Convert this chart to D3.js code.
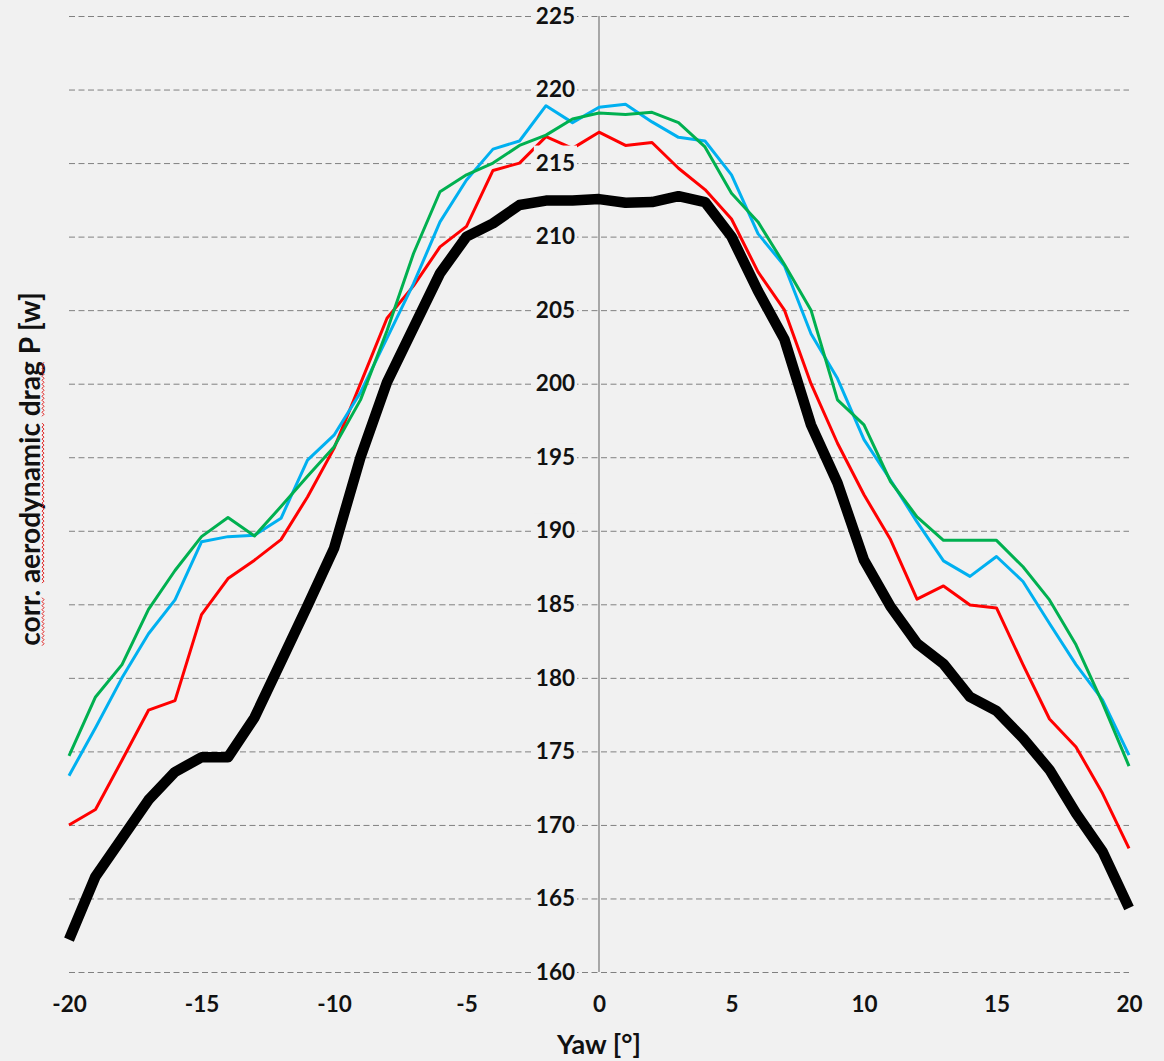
<!DOCTYPE html>
<html>
<head>
<meta charset="utf-8">
<script src="https://cdn.jsdelivr.net/npm/d3@7"></script>
<style>
  html, body { margin: 0; padding: 0; background: #f1f1f1; }
  svg { display: block; }
  text { font-family: Lato, "Open Sans", sans-serif; font-weight: bold; fill: #111; }
</style>
</head>
<body>
<svg id="chart" width="1164" height="1061"></svg>
<script>
const yaw = [-20,-19,-18,-17,-16,-15,-14,-13,-12,-11,-10,-9,-8,-7,-6,-5,-4,-3,-2,-1,0,1,2,3,4,5,6,7,8,9,10,11,12,13,14,15,16,17,18,19,20];

const seriesBlack = [162.2,166.5,169.1,171.7,173.6,174.6,174.6,177.3,181.1,184.9,188.8,195.0,200.1,203.8,207.5,210.0,210.9,212.15,212.45,212.45,212.55,212.3,212.35,212.75,212.35,210.0,206.3,203.0,197.2,193.25,188.0,184.85,182.35,180.95,178.7,177.75,175.9,173.75,170.8,168.2,164.35];
const seriesRed   = [170.0,171.05,174.4,177.8,178.45,184.3,186.75,188.0,189.4,192.3,195.6,200.0,204.45,206.65,209.3,210.7,214.5,215.0,216.8,216.0,217.1,216.2,216.4,214.65,213.2,211.2,207.6,205.0,200.0,195.95,192.45,189.4,185.35,186.25,184.95,184.75,180.9,177.2,175.3,172.15,168.4];
const seriesBlue  = [173.35,176.6,180.0,183.0,185.3,189.25,189.6,189.7,190.85,194.8,196.5,199.4,203.1,206.8,211.0,213.85,215.95,216.5,218.9,217.75,218.8,219.0,217.8,216.75,216.5,214.2,210.2,208.0,203.4,200.35,196.2,193.45,190.6,187.95,186.9,188.25,186.55,183.7,180.9,178.5,174.75];
const seriesGreen = [174.7,178.7,180.9,184.65,187.3,189.6,190.9,189.65,191.65,193.7,195.7,198.9,203.6,208.85,213.05,214.2,215.0,216.2,216.9,218.0,218.4,218.3,218.45,217.75,216.1,212.95,211.0,208.1,205.0,198.9,197.2,193.35,190.95,189.35,189.35,189.35,187.55,185.3,182.25,178.3,174.0];

const yTicks = [160,165,170,175,180,185,190,195,200,205,210,215,220,225];
const xTicks = [-20,-15,-10,-5,0,5,10,15,20];
const xTitle = "Yaw [°]";
const yTitle = "corr. aerodynamic drag P [w]";
const underlinedWords = ["corr", "aerodynamic", "drag"];

const seriesList = [
  {name: "red",   values: seriesRed,   color: "#ff0000", width: 3},
  {name: "blue",  values: seriesBlue,  color: "#00b0f0", width: 3},
  {name: "green", values: seriesGreen, color: "#00b050", width: 3},
  {name: "black", values: seriesBlack, color: "#000000", width: 10.5}
];

const svg = d3.select("#chart");
const pLeft = 69, pRight = 1129, pTop = 16, pBottom = 972;
const x = d3.scaleLinear().domain([-20, 20]).range([pLeft, pRight]);
const y = d3.scaleLinear().domain([160, 225]).range([pBottom, pTop]);
const fmt = d => String(d);

svg.append("rect").attr("width", 1164).attr("height", 1061).attr("fill", "#f1f1f1");

// gridlines
const grid = svg.append("g").attr("transform", `translate(${pLeft},0)`)
  .call(d3.axisLeft(y).tickValues(yTicks).tickSize(-(pRight - pLeft)).tickFormat(""));
grid.select(".domain").remove();
grid.selectAll(".tick line").attr("stroke", "#808080").attr("stroke-width", 1).attr("stroke-dasharray", "6,3.5");

// vertical axis line at x = 0
svg.append("line").attr("x1", x(0)).attr("x2", x(0)).attr("y1", y(225)).attr("y2", y(160))
  .attr("stroke", "#808080").attr("stroke-width", 1.3);

// series lines
const line = d3.line().x((d, i) => x(yaw[i])).y(d => y(d));
svg.append("g").selectAll("path").data(seriesList).join("path")
  .attr("d", d => line(d.values))
  .attr("fill", "none")
  .attr("stroke", d => d.color)
  .attr("stroke-width", d => d.width)
  .attr("stroke-linejoin", "round")
  .attr("stroke-linecap", "butt");

// y tick labels (with background boxes covering grid and lines)
const yAxis = svg.append("g").attr("transform", `translate(${x(0)},0)`)
  .call(d3.axisLeft(y).tickValues(yTicks).tickSize(0).tickPadding(24).tickFormat(fmt));
yAxis.select(".domain").remove();
yAxis.selectAll(".tick text").attr("font-size", 22.5).attr("fill", "#111")
  .attr("font-family", "Lato, 'Open Sans', sans-serif").attr("font-weight", "bold");
yAxis.selectAll(".tick").each(function() {
  const t = d3.select(this).select("text");
  const w = t.node().getComputedTextLength();
  d3.select(this).insert("rect", "text")
    .attr("x", -24 - w - 2).attr("y", -18).attr("width", w + 4).attr("height", 30)
    .attr("fill", "#f1f1f1");
});

// x tick labels
const xAxis = svg.append("g").attr("transform", `translate(0,${pBottom})`)
  .call(d3.axisBottom(x).tickValues(xTicks).tickSize(0).tickPadding(24).tickFormat(fmt));
xAxis.select(".domain").remove();
xAxis.selectAll(".tick text").attr("font-size", 22.5).attr("fill", "#111")
  .attr("font-family", "Lato, 'Open Sans', sans-serif").attr("font-weight", "bold");

// axis titles
svg.append("text").attr("x", x(0)).attr("y", 1054).attr("text-anchor", "middle")
  .attr("font-size", 27).text(xTitle);

const yt = svg.append("text")
  .attr("transform", "translate(40,469) rotate(-90)")
  .attr("text-anchor", "middle")
  .attr("font-size", 28)
  .text(yTitle);

// red wavy spell-check underline beneath selected words
const node = yt.node();
const full = node.getComputedTextLength();
const start = -full / 2;
underlinedWords.forEach(word => {
  const idx = yTitle.indexOf(word);
  const pre = idx > 0 ? node.getSubStringLength(0, idx) : 0;
  const wl = node.getSubStringLength(idx, word.length);
  const s0 = start + pre, s1 = s0 + wl;
  const pts = [];
  let k = 0;
  for (let s = s0; s <= s1; s += 2) { pts.push([s, 2 + (k % 2 === 0 ? 0 : 2)]); k++; }
  svg.append("path")
    .attr("transform", "translate(40,469) rotate(-90)")
    .attr("d", d3.line()(pts))
    .attr("fill", "none").attr("stroke", "#e02020").attr("stroke-width", 1);
});
</script>
</body>
</html>
